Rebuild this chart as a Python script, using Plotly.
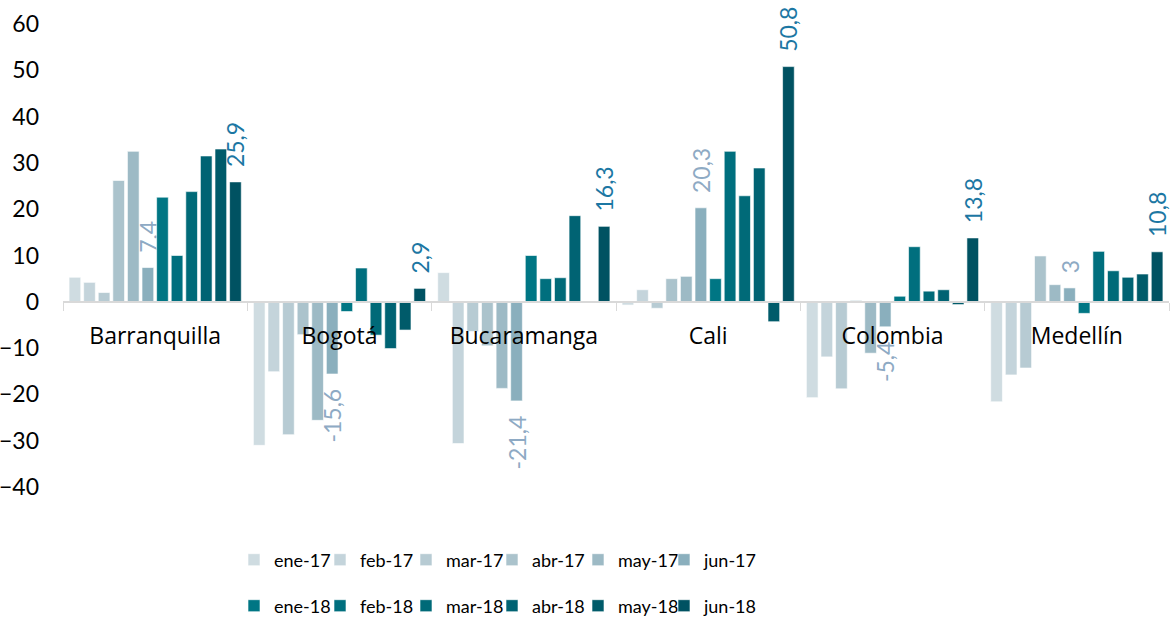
import plotly.graph_objects as go

categories = ["Barranquilla", "Bogotá", "Bucaramanga", "Cali", "Colombia", "Medellín"]
series_names = ["ene-17", "feb-17", "mar-17", "abr-17", "may-17", "jun-17",
                "ene-18", "feb-18", "mar-18", "abr-18", "may-18", "jun-18"]

ene_17 = [5.3, -31.0, 6.3, -0.7, -20.7, -21.6]
feb_17 = [4.2, -15.1, -30.6, 2.6, -11.9, -15.8]
mar_17 = [2.0, -28.7, -6.4, -1.4, -18.8, -14.3]
abr_17 = [26.2, -7.1, -9.5, 5.0, 0.3, 9.9]
may_17 = [32.5, -25.6, -18.7, 5.5, -11.1, 3.7]
jun_17 = [7.4, -15.6, -21.4, 20.3, -5.4, 3.0]
ene_18 = [22.6, -2.1, 10.0, 5.0, 1.2, -2.5]
feb_18 = [10.0, 7.3, 5.0, 32.5, 11.9, 10.9]
mar_18 = [23.8, -7.2, 5.2, 22.9, 2.3, 6.7]
abr_18 = [31.5, -10.1, 18.6, 28.9, 2.6, 5.3]
may_18 = [33.0, -6.1, None, -4.3, -0.6, 6.0]
jun_18 = [25.9, 2.9, 16.3, 50.8, 13.8, 10.8]

values = [ene_17, feb_17, mar_17, abr_17, may_17, jun_17,
          ene_18, feb_18, mar_18, abr_18, may_18, jun_18]

colors = ["#cfdce1", "#c4d4db", "#b7cbd3", "#abc3cc", "#9dbac5", "#8aafbd",
          "#007684", "#006f7e", "#006a78", "#006373", "#005b6a", "#005262"]

labelled = {"jun-17": "#8eaac4", "jun-18": "#1c77a3"}

FONT = "Lato"
CAT_FONT = "Open Sans"
NB = "\u00a0"

W, H = 1172, 623
PL, PT, PR, PB = 63, 24, 3, 136
PH = H - PT - PB
PW = W - PL - PR


def fmt(v):
    s = ("%g" % v).replace(".", ",")
    pad = NB * 2
    return pad + s if v >= 0 else s + pad


fig = go.Figure()
for name, vals, col in zip(series_names, values, colors):
    kw = {}
    if name in labelled:
        kw = dict(
            text=[fmt(v) if v is not None else "" for v in vals],
            textposition="outside",
            textangle=-90,
            textfont=dict(family=FONT, size=23, color=labelled[name]),
            constraintext="none",
            cliponaxis=False,
            legendwidth=60,
        )
    fig.add_trace(go.Bar(
        name=name, x=categories, y=vals,
        marker=dict(color=col, line=dict(color="rgba(255,255,255,0.6)", width=1)),
        legend="legend" if name.endswith("17") else "legend2",
        hoverinfo="skip",
        **kw,
    ))

LEG_X = (234 - PL) / PW
fig.update_layout(
    width=W, height=H,
    margin=dict(l=PL, r=PR, t=PT, b=PB, autoexpand=False),
    paper_bgcolor="white", plot_bgcolor="white",
    font=dict(family=FONT, size=22, color="black"),
    barmode="group", bargap=0.05, bargroupgap=0.2,
    showlegend=True,
    legend=dict(orientation="h", x=LEG_X, xanchor="left",
                y=-(560 - 487) / PH, yanchor="middle",
                entrywidth=41, font=dict(family=FONT, size=18), bgcolor="rgba(0,0,0,0)"),
    legend2=dict(orientation="h", x=LEG_X, xanchor="left",
                 y=-(606 - 487) / PH, yanchor="middle",
                 entrywidth=41, font=dict(family=FONT, size=18), bgcolor="rgba(0,0,0,0)"),
)
fig.update_xaxes(
    anchor="free", position=0.4, automargin=False,
    showline=True, linecolor="#d9d9d9", linewidth=2,
    ticks="outside", tickson="boundaries", ticklen=8, tickcolor="#d9d9d9", tickwidth=1,
    ticklabelstandoff=14,
    showgrid=False, zeroline=False,
    tickfont=dict(family=CAT_FONT, size=23, color="black"),
)
fig.update_yaxes(
    range=[-40, 60], dtick=10, tick0=0, automargin=False,
    showgrid=False, zeroline=False, showline=False,
    ticklabelstandoff=23,
    tickfont=dict(family=FONT, size=23, color="black"),
)

fig.write_html("out.html", config={"displayModeBar": False},
               post_script="document.body.style.margin='0';")
